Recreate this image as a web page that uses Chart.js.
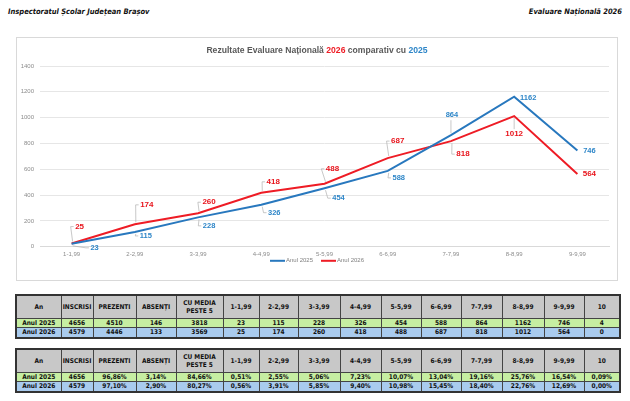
<!DOCTYPE html>
<html><head><meta charset="utf-8">
<script src="https://cdn.jsdelivr.net/npm/chart.js@4"></script>
<style>
html,body{margin:0;padding:0;background:#fff;width:630px;height:401px;overflow:hidden;font-family:"Liberation Sans",Arial,sans-serif;}
.hdr{position:absolute;top:7px;font:italic bold 7.5px "Liberation Sans Narrow","DejaVu Sans Condensed",Arial,sans-serif;color:#111;}
#box{position:absolute;left:16px;top:37px;width:600px;height:242px;border:1px solid #d9d9d9;}
#title{position:absolute;left:0;top:7px;width:600px;text-align:center;font:bold 8.6px "Liberation Sans",Arial,sans-serif;color:#595959;}
#cwrap{position:absolute;left:0;top:0;width:600px;height:242px;}
table{position:absolute;left:15px;border-collapse:collapse;table-layout:fixed;width:604px;border:2px solid #333;font:bold 6.5px "Liberation Sans Narrow","DejaVu Sans Condensed",Arial,sans-serif;color:#111;}
td{border:1px solid #444;text-align:center;padding:0;overflow:hidden;white-space:nowrap;}
tr.h td{background:#c8c8c8;height:22px;line-height:8px;white-space:normal;}
tr.a td{background:#c6eea2;height:8px;line-height:8px;}
tr.b td{background:#a9cbee;height:9px;line-height:9px;}
</style></head><body>
<div class="hdr" style="left:8px">Inspectoratul Școlar Județean Brașov</div>
<div class="hdr" style="right:8px">Evaluare Națională 2026</div>
<div id="box">
  <div id="cwrap"><canvas id="c" width="600" height="242"></canvas></div>
  <div id="title">Rezultate Evaluare Națională <span style="color:#ee1c25">2026</span> comparativ cu <span style="color:#2e86c8">2025</span></div>
</div>
<table id="t1" style="top:294px"></table>
<table id="t2" style="top:348px"></table>
<script>
const categories = ["1-1,99","2-2,99","3-3,99","4-4,99","5-5,99","6-6,99","7-7,99","8-8,99","9-9,99"];
const values2025 = [23,115,228,326,454,588,864,1162,746];
const values2026 = [25,174,260,418,488,687,818,1012,564];
const yTicks = [0,200,400,600,800,1000,1200,1400];

const tableHeaders = ["An","INSCRISI","PREZENTI","ABSENȚI","CU MEDIA PESTE 5","1-1,99","2-2,99","3-3,99","4-4,99","5-5,99","6-6,99","7-7,99","8-8,99","9-9,99","10"];
const row2025 = ["Anul 2025","4656","4510","146","3818","23","115","228","326","454","588","864","1162","746","4"];
const row2026 = ["Anul 2026","4579","4446","133","3569","25","174","260","418","488","687","818","1012","564","0"];
const pct2025 = ["Anul 2025","4656","96,86%","3,14%","84,66%","0,51%","2,55%","5,06%","7,23%","10,07%","13,04%","19,16%","25,76%","16,54%","0,09%"];
const pct2026 = ["Anul 2026","4579","97,10%","2,90%","80,27%","0,56%","3,91%","5,85%","9,40%","10,98%","15,45%","18,40%","22,76%","12,69%","0,00%"];

const colWidths = [45,32,43,40,47,36,39,42,41,40,40,41,42,40,36];

function buildTable(id, r1, r2){
  const t = document.getElementById(id);
  let html = '<colgroup>' + colWidths.map(w=>'<col style="width:'+w+'px">').join('') + '</colgroup>';
  html += '<tr class="h">' + tableHeaders.map(h=>'<td>'+(h==="CU MEDIA PESTE 5"?'CU MEDIA<br>PESTE 5':h)+'</td>').join('') + '</tr>';
  html += '<tr class="a">' + r1.map(v=>'<td>'+v+'</td>').join('') + '</tr>';
  html += '<tr class="b">' + r2.map(v=>'<td>'+v+'</td>').join('') + '</tr>';
  t.innerHTML = html;
}
buildTable('t1', row2025, row2026);
buildTable('t2', pct2025, pct2026);

// label placement offsets (px) relative to each point
const labelOffsets = [
  [[23,4],[11,4],[11,8.5],[13,8],[14,10],[11,7],[1,-20],[14,1],[12,0]],
  [[8,-17],[12,-19.5],[11,-11],[12,-11],[8,-15],[10,-17],[12,13],[0,18],[12,0]]
];
const leaders = [
  [1,1,1,1,1,1,1,0,0],
  [1,1,1,1,1,1,1,1,0]
];
const labelColors = ['#2e86c8','#e8141c'];
const labelFonts = ['bold 7.5px "Liberation Sans", Arial, sans-serif','bold 8px "Liberation Sans", Arial, sans-serif'];

const labelPlugin = {
  id:'pointLabels',
  afterDatasetsDraw(chart){
    const ctx = chart.ctx;
    chart.data.datasets.forEach((ds,di)=>{
      const meta = chart.getDatasetMeta(di);
      meta.data.forEach((pt,i)=>{
        const [dx,dy] = labelOffsets[di][i];
        const lx = pt.x+dx, ly = pt.y+dy;
        const txt = String(ds.data[i]);
        ctx.save();
        ctx.font = labelFonts[di];
        const w = ctx.measureText(txt).width;
        if (leaders[di][i]) {
          ctx.strokeStyle = '#b0b0b0';
          ctx.lineWidth = 0.7;
          ctx.beginPath();
          if (Math.abs(dx) < 4) {
            const ey = dy < 0 ? ly+5 : ly-5;
            ctx.moveTo(pt.x, pt.y + (dy<0?-2:2));
            ctx.lineTo(pt.x, ey);
          } else {
            const left = lx - w/2 - 1.5;
            ctx.moveTo(pt.x + (dx>0?1:0), pt.y + (dy>0?2:-2));
            ctx.lineTo(left-3, ly);
            ctx.lineTo(left, ly);
          }
          ctx.stroke();
        }
        ctx.fillStyle = labelColors[di];
        ctx.textAlign = 'center';
        ctx.textBaseline = 'middle';
        ctx.fillText(txt, lx, ly);
        ctx.restore();
      });
    });
  }
};

// simple bottom legend drawn from dataset labels/colours
const legendPlugin = {
  id:'bottomLegend',
  afterDraw(chart){
    const ctx = chart.ctx;
    const ds = chart.data.datasets;
    const lineLen = 15, gap = 1, itemGap = 8;
    ctx.save();
    ctx.font = '6px "Liberation Sans", Arial, sans-serif';
    const widths = ds.map(d => lineLen + gap + ctx.measureText(d.label).width);
    const total = widths.reduce((a,b)=>a+b,0) + itemGap*(ds.length-1);
    let x = chart.width/2 - total/2;
    const y = chart.chartArea.bottom + 14;
    ds.forEach((d,i)=>{
      ctx.strokeStyle = d.borderColor;
      ctx.lineWidth = 2;
      ctx.beginPath();
      ctx.moveTo(x, y); ctx.lineTo(x+lineLen, y);
      ctx.stroke();
      ctx.fillStyle = '#7f7f7f';
      ctx.textAlign = 'left';
      ctx.textBaseline = 'middle';
      ctx.fillText(d.label, x+lineLen+gap, y);
      x += widths[i] + itemGap;
    });
    ctx.restore();
  }
};

new Chart(document.getElementById('c'), {
  type:'line',
  data:{
    labels:categories,
    datasets:[
      {label:'Anul 2025', data:values2025, borderColor:'#2878be', backgroundColor:'#2878be', borderWidth:2, pointRadius:0, tension:0},
      {label:'Anul 2026', data:values2026, borderColor:'#ee1c25', backgroundColor:'#ee1c25', borderWidth:2, pointRadius:0, tension:0}
    ]
  },
  options:{
    responsive:false, animation:false,
    layout:{padding:{top:28,right:8,bottom:18,left:0}},
    plugins:{
      title:{display:false},
      tooltip:{enabled:false},
      legend:{display:false}
    },
    scales:{
      x:{
        offset:true,
        grid:{display:false, drawTicks:false},
        border:{color:'#d9d9d9', width:1},
        ticks:{padding:4, font:{size:6, family:'"Liberation Sans", Arial, sans-serif'}, color:'#8c8c8c', maxRotation:0}
      },
      y:{
        min:0, max:1400,
        afterBuildTicks(scale){ scale.ticks = yTicks.map(v=>({value:v})); },
        afterFit(scale){ scale.width = 23; },
        grid:{color:'#e6e6e6', drawTicks:false},
        border:{display:false},
        ticks:{padding:6, font:{size:6, family:'"Liberation Sans", Arial, sans-serif'}, color:'#8c8c8c', callback:(v)=>String(v)}
      }
    }
  },
  plugins:[labelPlugin, legendPlugin]
});
</script>
</body></html>
